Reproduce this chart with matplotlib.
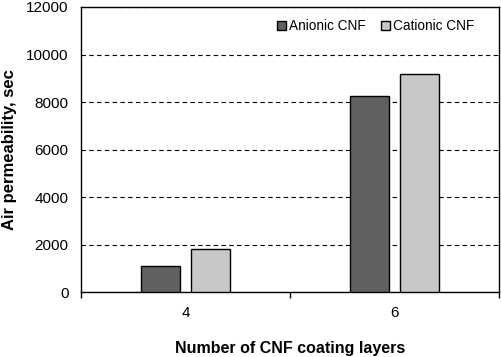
"""
Air permeability of CNF coated samples vs number of coating layers
"""

import numpy as np
import matplotlib.pyplot as plt

plt.rcParams['font.family'] = ['Liberation Sans', 'DejaVu Sans']

layers = ['4', '6']
anionic = [1090, 8240]
cationic = [1810, 9170]

fig = plt.figure(figsize=(5.01, 3.57), dpi=100)
ax = fig.add_axes([81 / 501, 1 - 292.3 / 357, 418 / 501, 285.3 / 357])

x = np.arange(len(layers))
width = 0.19
gap = 0.05
ax.bar(x - (width + gap) / 2, anionic, width, color='#606060', edgecolor='black',
       linewidth=1, label='Anionic CNF', zorder=3)
ax.bar(x + (width + gap) / 2, cationic, width, color='#c8c8c8', edgecolor='black',
       linewidth=1, label='Cationic CNF', zorder=3)

ax.set_xlim(-0.5, 1.5)
ax.set_ylim(0, 12000)
ax.set_yticks(range(0, 12001, 2000))
ax.set_xticks(x)
ax.set_xticklabels(layers)
ax.tick_params(axis='x', length=0, labelsize=11, pad=10)
ax.tick_params(axis='y', length=0, labelsize=11, pad=9)
# category separators like spreadsheet charts
ax.set_xticks([-0.5, 0.5, 1.5], minor=True)
ax.tick_params(axis='x', which='minor', length=4, direction='out', width=1)

ax.yaxis.grid(True, linestyle=(0, (4, 3)), color='black', linewidth=0.8, zorder=0)
for s in ax.spines.values():
    s.set_linewidth(1)

fig.text(10 / 501, 1 - 150 / 357, 'Air permeability, sec', fontsize=12,
         fontweight='bold', rotation=90, ha='center', va='center')
fig.text(290 / 501, 1 - 348 / 357, 'Number of CNF coating layers', fontsize=11.5,
         fontweight='bold', ha='center', va='center')

ax.legend(loc='upper right', ncol=2, frameon=False, fontsize=9.8, handlelength=0.7,
          handleheight=0.7, handletextpad=0.2, columnspacing=1.1,
          bbox_to_anchor=(0.97, 1.0))

plt.savefig('out.png', dpi=100)
plt.close()
